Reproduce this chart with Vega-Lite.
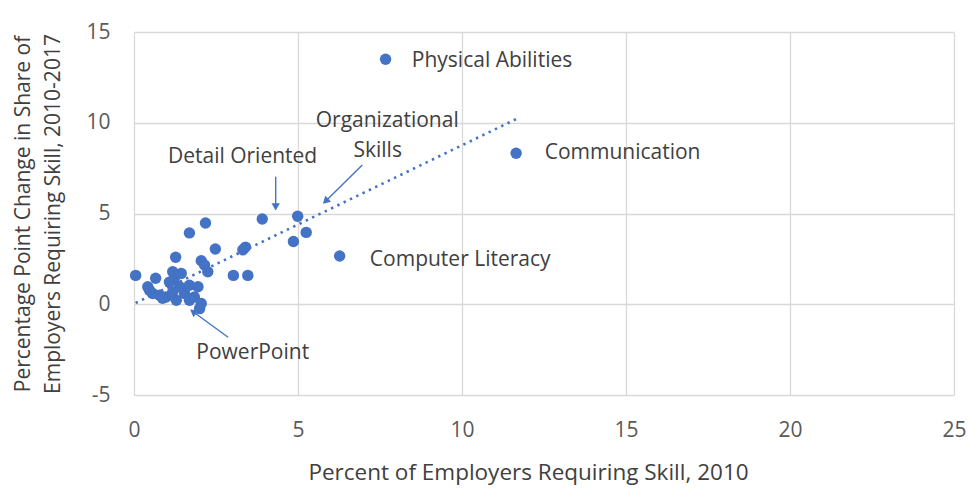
{
  "$schema": "https://vega.github.io/schema/vega-lite/v6.json",
  "width": 820,
  "height": 363,
  "autosize": "none",
  "padding": {"left": 134, "top": 32, "right": 19, "bottom": 98},
  "background": "white",
  "config": {
    "view": {"stroke": null},
    "font": "Open Sans"
  },
  "datasets": {
    "pts": [
      {"x": 0.05, "y": 1.59}, {"x": 0.66, "y": 1.43}, {"x": 0.42, "y": 0.96}, {"x": 0.57, "y": 0.59},
      {"x": 0.78, "y": 0.5}, {"x": 0.98, "y": 0.4}, {"x": 1.18, "y": 0.68}, {"x": 1.39, "y": 0.96},
      {"x": 1.29, "y": 0.22}, {"x": 1.54, "y": 0.59}, {"x": 1.18, "y": 1.79}, {"x": 1.23, "y": 1.44},
      {"x": 1.44, "y": 1.7}, {"x": 1.69, "y": 1.05}, {"x": 1.95, "y": 0.96}, {"x": 1.84, "y": 0.4},
      {"x": 2.05, "y": 0.04}, {"x": 2.0, "y": -0.24}, {"x": 0.87, "y": 0.33}, {"x": 1.69, "y": 0.22},
      {"x": 1.08, "y": 1.22}, {"x": 0.47, "y": 0.77},
      {"x": 1.27, "y": 2.59}, {"x": 2.05, "y": 2.4}, {"x": 2.15, "y": 2.16}, {"x": 2.25, "y": 1.79},
      {"x": 2.18, "y": 4.48}, {"x": 1.69, "y": 3.93}, {"x": 2.48, "y": 3.04}, {"x": 3.4, "y": 3.15},
      {"x": 3.32, "y": 3.0}, {"x": 3.03, "y": 1.59}, {"x": 3.47, "y": 1.59}, {"x": 3.91, "y": 4.7},
      {"x": 4.99, "y": 4.85}, {"x": 5.25, "y": 3.96}, {"x": 4.86, "y": 3.46}, {"x": 6.27, "y": 2.66},
      {"x": 7.67, "y": 13.5}, {"x": 11.65, "y": 8.32}
    ],
    "trend": [
      {"x": 0.05, "y": 0.07},
      {"x": 11.65, "y": 10.2}
    ],
    "arrows": [
      {"x": 4.32, "y": 7.03, "x2": 4.32, "y2": 5.37, "ang": 180},
      {"x": 6.96, "y": 7.67, "x2": 5.84, "y2": 5.68, "ang": 226},
      {"x": 2.87, "y": -1.82, "x2": 1.8, "y2": -0.41, "ang": 306}
    ],
    "leftLabels": [
      {"x": 8.47, "y": 13.42, "label": "Physical Abilities"},
      {"x": 12.52, "y": 8.35, "label": "Communication"},
      {"x": 7.19, "y": 2.44, "label": "Computer Literacy"}
    ],
    "centerLabels": [
      {"x": 3.31, "y": 8.13, "label": "Detail Oriented"},
      {"x": 7.72, "y": 10.11, "label": "Organizational"},
      {"x": 7.43, "y": 8.46, "label": "Skills"},
      {"x": 3.62, "y": -2.7, "label": "PowerPoint"}
    ]
  },
  "layer": [
    {
      "data": {"name": "pts"},
      "mark": {"type": "point", "filled": true, "size": 130, "opacity": 1, "color": "#4472C4"},
      "encoding": {
        "x": {
          "field": "x", "type": "quantitative",
          "scale": {"domain": [0, 25], "nice": false, "zero": false},
          "axis": {
            "values": [0, 5, 10, 15, 20, 25],
            "title": "Percent of Employers Requiring Skill, 2010",
            "domain": false, "ticks": false, "labelFlush": false,
            "grid": true, "gridColor": "#d9d9d9", "gridWidth": 1.3,
            "labelFont": "Open Sans", "labelFontSize": 21, "labelColor": "#595959",
            "labelPadding": 24,
            "titleFont": "Open Sans", "titleFontSize": 22.5, "titleFontWeight": "normal", "titleColor": "#404040",
            "titlePadding": 21, "titleX": 394
          }
        },
        "y": {
          "field": "y", "type": "quantitative",
          "scale": {"domain": [-5, 15], "nice": false, "zero": false},
          "axis": {
            "values": [-5, 0, 5, 10, 15],
            "labelExpr": "'' + datum.value",
            "title": ["Percentage Point Change in Share of", "Employers Requiring Skill, 2010-2017"],
            "domain": false, "ticks": false, "labelFlush": false,
            "grid": true, "gridColor": "#d9d9d9", "gridWidth": 1.3,
            "labelFont": "Open Sans", "labelFontSize": 21, "labelColor": "#595959",
            "labelPadding": 24,
            "titleFont": "Open Sans", "titleFontSize": 21, "titleFontWeight": "normal", "titleColor": "#404040",
            "titlePadding": 22, "titleLineHeight": 30
          }
        }
      }
    },
    {
      "data": {"name": "trend"},
      "mark": {"type": "line", "color": "#4472C4", "strokeWidth": 2.6, "strokeDash": [2.4, 4.6]},
      "encoding": {
        "x": {"field": "x", "type": "quantitative"},
        "y": {"field": "y", "type": "quantitative"}
      }
    },
    {
      "data": {"name": "arrows"},
      "mark": {"type": "rule", "color": "#4472C4", "strokeWidth": 1.4},
      "encoding": {
        "x": {"field": "x", "type": "quantitative"},
        "y": {"field": "y", "type": "quantitative"},
        "x2": {"field": "x2"},
        "y2": {"field": "y2"}
      }
    },
    {
      "data": {"name": "arrows"},
      "mark": {"type": "point", "shape": "triangle-up", "filled": true, "size": 70, "opacity": 1, "color": "#4472C4"},
      "encoding": {
        "x": {"field": "x2", "type": "quantitative"},
        "y": {"field": "y2", "type": "quantitative"},
        "angle": {"field": "ang", "type": "quantitative", "scale": null}
      }
    },
    {
      "data": {"name": "leftLabels"},
      "mark": {"type": "text", "align": "left", "baseline": "middle", "font": "Open Sans", "fontSize": 21, "color": "#404040"},
      "encoding": {
        "x": {"field": "x", "type": "quantitative"},
        "y": {"field": "y", "type": "quantitative"},
        "text": {"field": "label"}
      }
    },
    {
      "data": {"name": "centerLabels"},
      "mark": {"type": "text", "align": "center", "baseline": "middle", "font": "Open Sans", "fontSize": 21, "color": "#404040"},
      "encoding": {
        "x": {"field": "x", "type": "quantitative"},
        "y": {"field": "y", "type": "quantitative"},
        "text": {"field": "label"}
      }
    }
  ]
}
